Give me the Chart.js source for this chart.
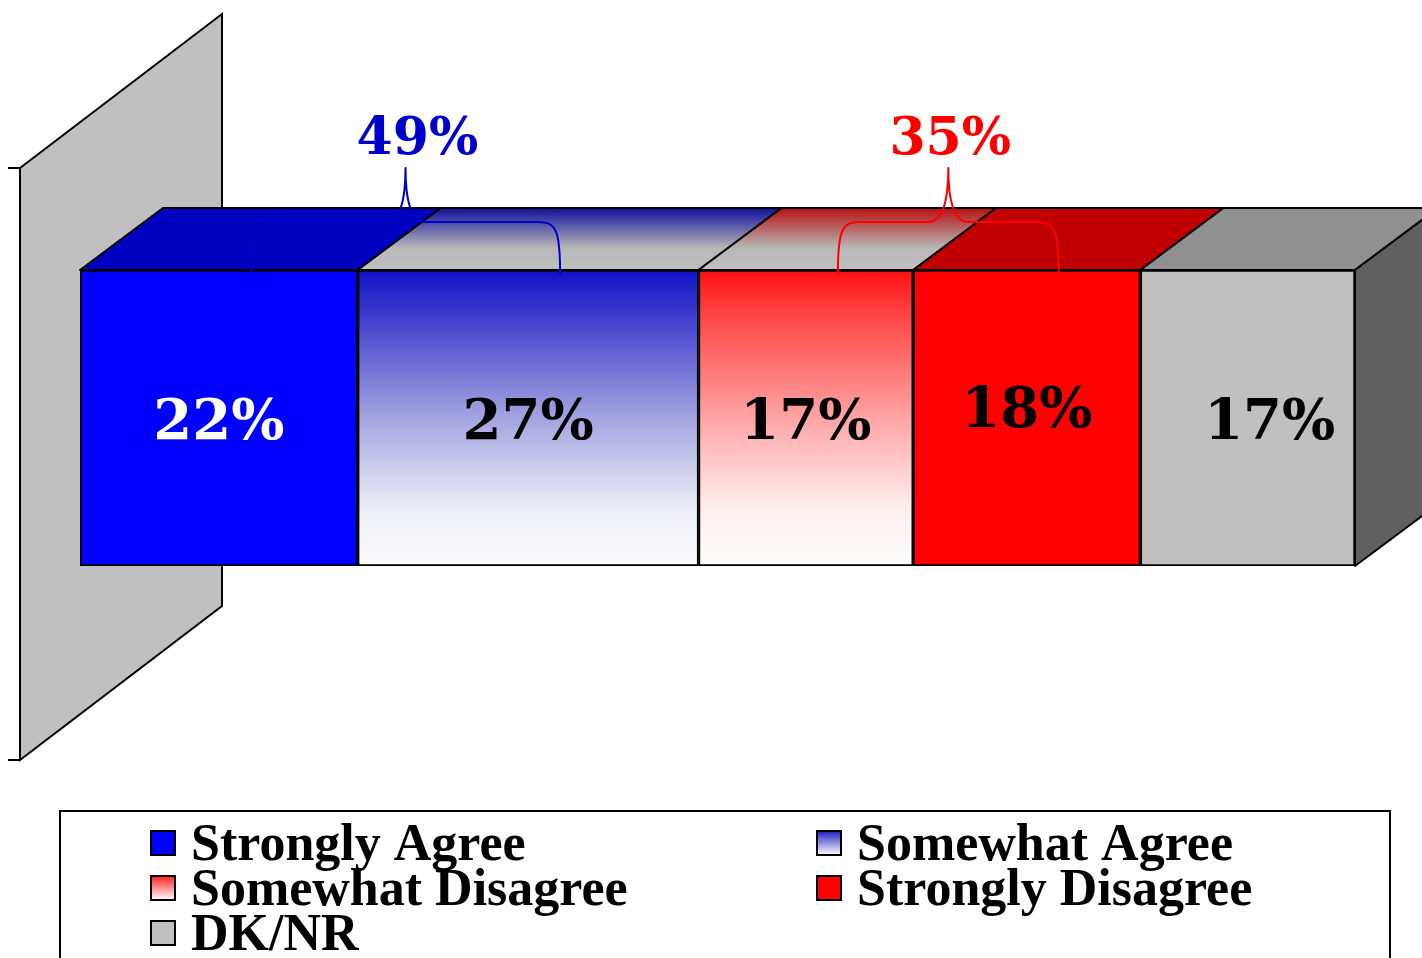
<!DOCTYPE html>
<html lang="en">
<head>
    <meta charset="UTF-8">
    <title>Agree / Disagree</title>
    <style>
        body {
            margin: 0;
            background: #ffffff;
        }
        #chart-container {
            width: 1422px;
            height: 958px;
            position: relative;
        }
    </style>
</head>
<body>
    <div id="chart-container">
        <canvas id="surveyChart"></canvas>
    </div>
    <script src="https://cdn.jsdelivr.net/npm/chart.js@4.4.1/dist/chart.umd.min.js"></script>
    <script>
        // answer categories and their shares (%)
        const categories = ['Strongly Agree', 'Somewhat Agree', 'Somewhat Disagree', 'Strongly Disagree', 'DK/NR'];
        const values = [22, 27, 17, 18, 17];
        const rowLabel = [''];
        // bracket groups: agree (0,1) and disagree (2,3)
        const agreeGroup = [0, 1];
        const disagreeGroup = [2, 3];

        const labelFont = 'bold 56px "DejaVu Serif", Georgia, serif';
        const legendFont = 'bold 52px "Liberation Serif", "Times New Roman", serif';
        const depthX = 83, depthY = -62;

        function frontFill(ctx, area, i) {
            if (i === 1) {
                let g = ctx.createLinearGradient(0, area.top, 0, area.bottom);
                g.addColorStop(0, '#1010c8');
                g.addColorStop(0.15, '#3c3ccc');
                g.addColorStop(0.5, '#a4a4e0');
                g.addColorStop(0.8, '#ececf6');
                g.addColorStop(1, '#fdfdff');
                return g;
            }
            if (i === 2) {
                let g = ctx.createLinearGradient(0, area.top, 0, area.bottom);
                g.addColorStop(0, '#ff1010');
                g.addColorStop(0.15, '#ff4444');
                g.addColorStop(0.5, '#ffa4a4');
                g.addColorStop(0.8, '#ffeeee');
                g.addColorStop(1, '#fffdfd');
                return g;
            }
            return ['#0000ff', null, null, '#ff0000', '#c0c0c0'][i];
        }

        function topFill(ctx, yBack, yFront, i) {
            if (i === 1 || i === 2) {
                let g = ctx.createLinearGradient(0, yBack, 0, yFront);
                g.addColorStop(0, i === 1 ? '#10109c' : '#b81010');
                g.addColorStop(0.65, '#b8b8b8');
                g.addColorStop(1, '#c0c0c0');
                return g;
            }
            return ['#0000c0', null, null, '#c00000', '#909090'][i];
        }

        const cubePlugin = {
            id: 'cube',
            beforeDatasetsDraw(chart) {
                const ctx = chart.ctx;
                const a = chart.chartArea;
                // left wall
                const wx = a.left - 60, wTop = a.top - 102, wBot = a.bottom + 194;
                ctx.save();
                ctx.fillStyle = '#c0c0c0';
                ctx.strokeStyle = '#000';
                ctx.lineWidth = 2;
                ctx.beginPath();
                ctx.moveTo(wx, wTop);
                ctx.lineTo(wx + 202, wTop - 154);
                ctx.lineTo(wx + 202, wBot - 154);
                ctx.lineTo(wx, wBot);
                ctx.closePath();
                ctx.fill();
                ctx.stroke();
                ctx.beginPath();
                ctx.moveTo(wx - 12, wTop); ctx.lineTo(wx, wTop);
                ctx.moveTo(wx - 12, wBot); ctx.lineTo(wx, wBot);
                ctx.stroke();
                ctx.restore();
            },
            afterDatasetsDraw(chart) {
                const ctx = chart.ctx;
                const a = chart.chartArea;
                const xs = chart.scales.x;
                ctx.save();
                ctx.strokeStyle = '#000';
                ctx.lineWidth = 2;
                ctx.lineJoin = 'round';
                let acc = 0;
                values.forEach((v, i) => {
                    const x0 = xs.getPixelForValue(acc);
                    const x1 = xs.getPixelForValue(acc + v);
                    acc += v;
                    ctx.fillStyle = topFill(ctx, a.top + depthY, a.top, i);
                    ctx.beginPath();
                    ctx.moveTo(x0, a.top);
                    ctx.lineTo(x1, a.top);
                    ctx.lineTo(x1 + depthX, a.top + depthY);
                    ctx.lineTo(x0 + depthX, a.top + depthY);
                    ctx.closePath();
                    ctx.fill();
                    ctx.stroke();
                });
                // right side
                const xr = xs.getPixelForValue(acc);
                ctx.fillStyle = '#606060';
                ctx.beginPath();
                ctx.moveTo(xr, a.top);
                ctx.lineTo(xr + depthX, a.top + depthY);
                ctx.lineTo(xr + depthX, a.bottom + depthY);
                ctx.lineTo(xr, a.bottom);
                ctx.closePath();
                ctx.fill();
                ctx.stroke();

                // value labels
                ctx.font = labelFont;
                ctx.textAlign = 'center';
                ctx.textBaseline = 'alphabetic';
                acc = 0;
                values.forEach((v, i) => {
                    const xm = xs.getPixelForValue(acc + v / 2);
                    acc += v;
                    let dx = 0, dy = 0;
                    if (i === 3) dy = -12;
                    if (i === 4) dx = 22;
                    ctx.fillStyle = i === 0 ? '#ffffff' : '#000000';
                    ctx.fillText(v + '%', xm + dx, (a.top + a.bottom) / 2 + 21 + dy);
                });

                // brackets with totals
                drawBracket(chart, agreeGroup, '#0000cc', 12);
                drawBracket(chart, disagreeGroup, '#ff0000', 2);
                ctx.restore();

                drawLegend(chart);
            }
        };

        function segMid(chart, i) {
            let start = 0;
            for (let k = 0; k < i; k++) start += values[k];
            return chart.scales.x.getPixelForValue(start + values[i] / 2);
        }

        function drawBracket(chart, group, color, textShift) {
            const ctx = chart.ctx;
            const a = chart.chartArea;
            const left = segMid(chart, group[0]) + 32;
            const right = segMid(chart, group[group.length - 1]) + 32;
            const tip = (left + right) / 2;
            const yTip = a.top - 102, yH = a.top - 48, yEnd = a.top + 4;
            ctx.save();
            ctx.strokeStyle = color;
            ctx.lineWidth = 2;
            ctx.beginPath();
            ctx.moveTo(left, yEnd);
            ctx.bezierCurveTo(left, yH + 8, left + 4, yH, left + 22, yH);
            ctx.lineTo(tip - 20, yH);
            ctx.bezierCurveTo(tip - 6, yH, tip, yH - 20, tip, yTip);
            ctx.bezierCurveTo(tip, yH - 20, tip + 6, yH, tip + 20, yH);
            ctx.lineTo(right - 22, yH);
            ctx.bezierCurveTo(right - 4, yH, right, yH + 8, right, yEnd);
            ctx.stroke();
            const total = group.reduce((s, k) => s + values[k], 0);
            ctx.fillStyle = color;
            ctx.font = 'bold 52px "DejaVu Serif", Georgia, serif';
            ctx.textAlign = 'center';
            ctx.fillText(total + '%', tip + textShift, yTip - 14);
            ctx.restore();
        }

        function legendSwatch(ctx, i, x, y, s) {
            let fill;
            if (i === 1 || i === 2) {
                fill = ctx.createLinearGradient(0, y, 0, y + s);
                fill.addColorStop(0, i === 1 ? '#2020c0' : '#ff2020');
                fill.addColorStop(1, '#ffffff');
            } else {
                fill = ['#0000ff', null, null, '#ff0000', '#c0c0c0'][i];
            }
            ctx.fillStyle = fill;
            ctx.fillRect(x, y, s, s);
            ctx.strokeRect(x, y, s, s);
        }

        function drawLegend(chart) {
            const ctx = chart.ctx;
            ctx.save();
            ctx.strokeStyle = '#000';
            ctx.lineWidth = 2;
            ctx.strokeRect(60, 811, 1330, 200);
            ctx.font = legendFont;
            ctx.fillStyle = '#000';
            ctx.textAlign = 'left';
            ctx.textBaseline = 'alphabetic';
            const colX = [151, 817];
            const rowY = [831, 876, 921];
            categories.forEach((c, i) => {
                const x = colX[i % 2], y = rowY[Math.floor(i / 2)];
                legendSwatch(ctx, i, x, y, 24);
                ctx.fillStyle = '#000';
                ctx.fillText(c, x + 40, y + 29);
            });
            ctx.restore();
        }

        const ctxEl = document.getElementById('surveyChart').getContext('2d');
        const chart = new Chart(ctxEl, {
            type: 'bar',
            data: {
                labels: rowLabel,
                datasets: categories.map((c, i) => ({
                    label: c,
                    data: [values[i]],
                    backgroundColor: (context) => {
                        const area = context.chart.chartArea;
                        if (!area) return '#ccc';
                        return frontFill(context.chart.ctx, area, i);
                    },
                    borderColor: '#000000',
                    borderWidth: 2,
                    borderSkipped: false,
                    barPercentage: 1,
                    categoryPercentage: 1
                }))
            },
            options: {
                indexAxis: 'y',
                responsive: true,
                maintainAspectRatio: false,
                animation: false,
                layout: {
                    padding: { left: 80, right: 67, top: 270, bottom: 392 }
                },
                scales: {
                    x: { stacked: true, min: 0, max: values.reduce((s, v) => s + v, 0), display: false },
                    y: { stacked: true, display: false }
                },
                plugins: {
                    legend: { display: false },
                    tooltip: { enabled: false }
                }
            },
            plugins: [cubePlugin]
        });
    </script>
</body>
</html>
